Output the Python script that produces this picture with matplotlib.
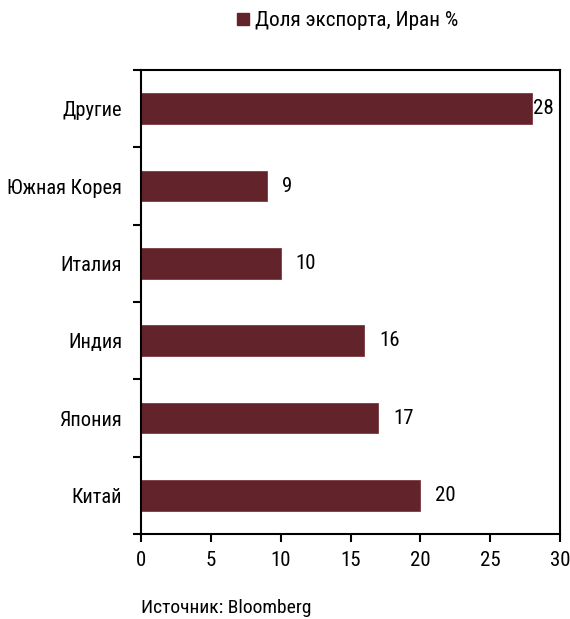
import matplotlib
matplotlib.use("Agg")
import matplotlib.pyplot as plt
from matplotlib.patches import Patch

plt.rcParams["font.family"] = ["Roboto Condensed", "PT Sans Narrow", "Liberation Sans", "DejaVu Sans"]

categories = ["Китай", "Япония", "Индия", "Италия", "Южная Корея", "Другие"]
values = [20, 17, 16, 10, 9, 28]
xticks = [0, 5, 10, 15, 20, 25, 30]
legend_label = "Доля экспорта, Иран %"
source = "Источник: Bloomberg"

color = "#62242A"
fig = plt.figure(figsize=(5.70, 6.19), dpi=100)
ax = fig.add_axes([141/570, 1-534/619, (560-141)/570, (534-70)/619])
y = list(range(len(categories)))
ax.barh(y, values, height=0.4, color=color, edgecolor="#7a3a3e", linewidth=0.6)
ax.set_xlim(0, 30)
ax.set_ylim(-0.5, len(categories)-0.5)
ax.set_xticks(xticks)
ax.set_xticklabels([str(t) for t in xticks], fontsize=15)
ax.set_yticks(y)
ax.set_yticklabels(categories, fontsize=14.7)
ax.tick_params(axis="y", length=0, pad=13.5)
ax.set_yticks([i-0.5 for i in range(len(categories)+1)], minor=True)
ax.tick_params(axis="y", which="minor", length=6, width=1.5, direction="out")
ax.tick_params(axis="x", length=6, width=1.5, direction="out", pad=6)
for s in ax.spines.values():
    s.set_linewidth(1.5)
for yi, v in zip(y, values):
    off = 1 if v >= 27 else 15
    ax.annotate(str(v), (v, yi), xytext=(off, 0), textcoords="offset pixels",
                va="center", ha="left", fontsize=15)
fig.legend(handles=[Patch(color=color)], labels=[legend_label], loc="center",
           bbox_to_anchor=(348/570, 1-21/619), frameon=False, fontsize=15.3,
           handlelength=0.55, handleheight=0.55, handletextpad=0.3)
fig.text(141/570, 1-608/619, source, fontsize=14, ha="left", va="center")
fig.savefig("out.png", dpi=100)
